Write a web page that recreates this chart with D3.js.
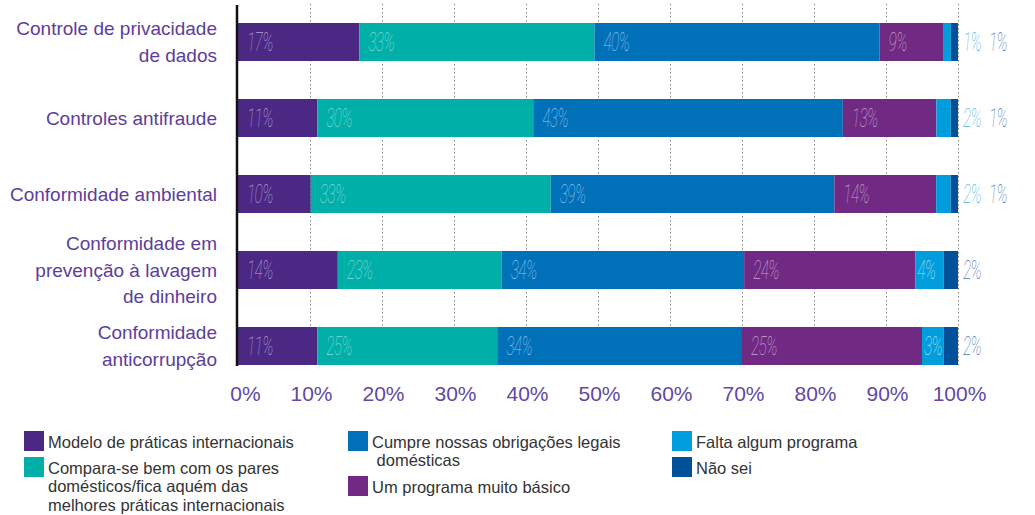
<!DOCTYPE html>
<html>
<head>
<meta charset="utf-8">
<script src="https://cdn.jsdelivr.net/npm/d3@7/dist/d3.min.js"></script>
<style>
  html, body { margin: 0; padding: 0; background: #fff; }
  svg { display: block; }
</style>
</head>
<body>
<svg id="chart" width="1035" height="515"></svg>
<script>
// Categories (one bar each), split into display lines
const categories = [
  "Controle de privacidade de dados",
  "Controles antifraude",
  "Conformidade ambiental",
  "Conformidade em prevenção à lavagem de dinheiro",
  "Conformidade anticorrupção"
];
const categoryLines = [
  ["Controle de privacidade", "de dados"],
  ["Controles antifraude"],
  ["Conformidade ambiental"],
  ["Conformidade em", "prevenção à lavagem", "de dinheiro"],
  ["Conformidade", "anticorrupção"]
];

// Series names in stacking order
const seriesNames = [
  "Modelo de práticas internacionais",
  "Compara-se bem com os pares domésticos/fica aquém das melhores práticas internacionais",
  "Cumpre nossas obrigações legais domésticas",
  "Um programa muito básico",
  "Falta algum programa",
  "Não sei"
];

// Percent values per series, in category order
const modelo  = [17, 11, 10, 14, 11];
const compara = [33, 30, 33, 23, 25];
const cumpre  = [40, 43, 39, 34, 34];
const basico  = [9, 13, 14, 24, 25];
const falta   = [1, 2, 2, 4, 3];
const naoSei  = [1, 1, 1, 2, 2];

const tickValues = [0, 10, 20, 30, 40, 50, 60, 70, 80, 90, 100];

const seriesValues = [modelo, compara, cumpre, basico, falta, naoSei];
const colors     = ["#4b2884", "#00afa8", "#0070b9", "#702a83", "#009ddc", "#00509a"];
const labelInner = ["#b3a3d6", "#86dcd5", "#93c3ec", "#c8a6d8", "#b0e0f6", "#9fbfe3"];
const labelOuter = ["#4b2884", "#00afa8", "#0070b9", "#702a83", "#4db3e6", "#4a76b3"];

// Legend layout: column-major, three columns
const legendLines = [
  ["Modelo de práticas internacionais"],
  ["Compara-se bem com os pares", "domésticos/fica aquém das", "melhores práticas internacionais"],
  ["Cumpre nossas obrigações legais", " domésticas"],
  ["Um programa muito básico"],
  ["Falta algum programa"],
  ["Não sei"]
];

const svg = d3.select("#chart");

const x = d3.scaleLinear().domain([0, 100]).range([238, 958]);
const y = d3.scaleBand().domain(categories).range([4, 384]).paddingInner(0.5).paddingOuter(0.25);

// Build stacked rows, normalised so each bar spans the full width
const rows = categories.map((c, i) => {
  const vals = seriesValues.map(s => s[i]);
  const total = d3.sum(vals);
  let acc = 0;
  return vals.map((v, k) => {
    const x0 = acc / total * 100;
    acc += v;
    return { cat: c, series: k, value: v, x0, x1: acc / total * 100 };
  });
});

// Dotted gridlines
svg.append("g")
  .selectAll("line")
  .data(tickValues.filter(t => t > 0))
  .join("line")
  .attr("x1", d => x(d) + 0.5).attr("x2", d => x(d) + 0.5)
  .attr("y1", 4).attr("y2", 365)
  .attr("stroke", "#8a8a8a")
  .attr("stroke-width", 1)
  .attr("stroke-dasharray", "1.5,2.5");

// Bars
const rowG = svg.append("g").selectAll("g")
  .data(rows)
  .join("g");

rowG.selectAll("rect")
  .data(d => d)
  .join("rect")
  .attr("x", d => x(d.x0))
  .attr("y", d => y(d.cat))
  .attr("width", d => x(d.x1) - x(d.x0))
  .attr("height", y.bandwidth())
  .attr("fill", d => colors[d.series]);

// Value labels: inside wide segments, outside to the right for narrow ones
const labelFont = "Roboto, Inter, 'Liberation Sans Narrow', sans-serif";
rows.forEach(row => {
  let outsideIndex = 0;
  row.forEach(d => {
    const w = x(d.x1) - x(d.x0);
    const cy = y(d.cat) + y.bandwidth() / 2;
    let tx, fill;
    if (d.value >= 3) {
      tx = x(d.x0) + (w < 40 ? 2 : 9);
      fill = labelInner[d.series];
    } else {
      tx = x(100) + 5 + outsideIndex * 26;
      outsideIndex++;
      fill = labelOuter[d.series];
    }
    svg.append("text")
      .attr("transform", `translate(${tx},${cy}) scale(0.62,1)`)
      .attr("dy", "0.36em")
      .attr("font-family", labelFont)
      .attr("font-style", "italic")
      .attr("font-weight", 100)
      .attr("font-size", 25)
      .attr("letter-spacing", -1)
      .attr("fill", fill)
      .text(d.value + "%");
  });
});

// Left axis line
svg.append("line")
  .attr("x1", 237).attr("x2", 237)
  .attr("y1", 5).attr("y2", 366)
  .attr("stroke", "#111")
  .attr("stroke-width", 2.5);

// Category labels
const catG = svg.append("g")
  .attr("font-family", "'Liberation Sans', Arial, sans-serif")
  .attr("font-size", 19)
  .attr("fill", "#5d3d9c")
  .attr("text-anchor", "end");

categories.forEach((c, i) => {
  const lines = categoryLines[i];
  const cy = y(c) + y.bandwidth() / 2;
  const lh = 26.5;
  const t = catG.append("text").attr("x", 217);
  lines.forEach((ln, j) => {
    t.append("tspan")
      .attr("x", 217)
      .attr("y", cy + (j - (lines.length - 1) / 2) * lh)
      .attr("dy", "0.35em")
      .text(ln);
  });
});

// Bottom axis tick labels
const xAxis = d3.axisBottom(x)
  .tickValues(tickValues)
  .tickFormat(d => d + "%")
  .tickSize(0)
  .tickPadding(0);

const axG = svg.append("g")
  .attr("transform", "translate(0,384)")
  .call(xAxis);
axG.select(".domain").remove();
axG.selectAll("text")
  .attr("font-family", "'Liberation Sans', Arial, sans-serif")
  .attr("font-size", 21)
  .attr("fill", "#6148a3")
  .attr("dy", "0.8em")
  .attr("dx", d => d === 0 ? 7 : 1);

// Legend
const legendPos = [
  { x: 24, y: 431 }, { x: 24, y: 457 },
  { x: 348, y: 431 }, { x: 348, y: 476 },
  { x: 672, y: 431 }, { x: 672, y: 457 }
];
const legG = svg.append("g")
  .attr("font-family", "'Liberation Sans', Arial, sans-serif")
  .attr("font-size", 16.5)
  .attr("fill", "#333");

seriesNames.forEach((name, k) => {
  const p = legendPos[k];
  legG.append("rect")
    .attr("x", p.x).attr("y", p.y)
    .attr("width", 20).attr("height", 20)
    .attr("fill", colors[k]);
  const t = legG.append("text");
  legendLines[k].forEach((ln, j) => {
    t.append("tspan")
      .attr("x", p.x + 24)
      .attr("y", p.y + 11 + j * 18.5)
      .attr("dy", "0.35em")
      .attr("xml:space", "preserve")
      .text(ln);
  });
});
</script>
</body>
</html>
